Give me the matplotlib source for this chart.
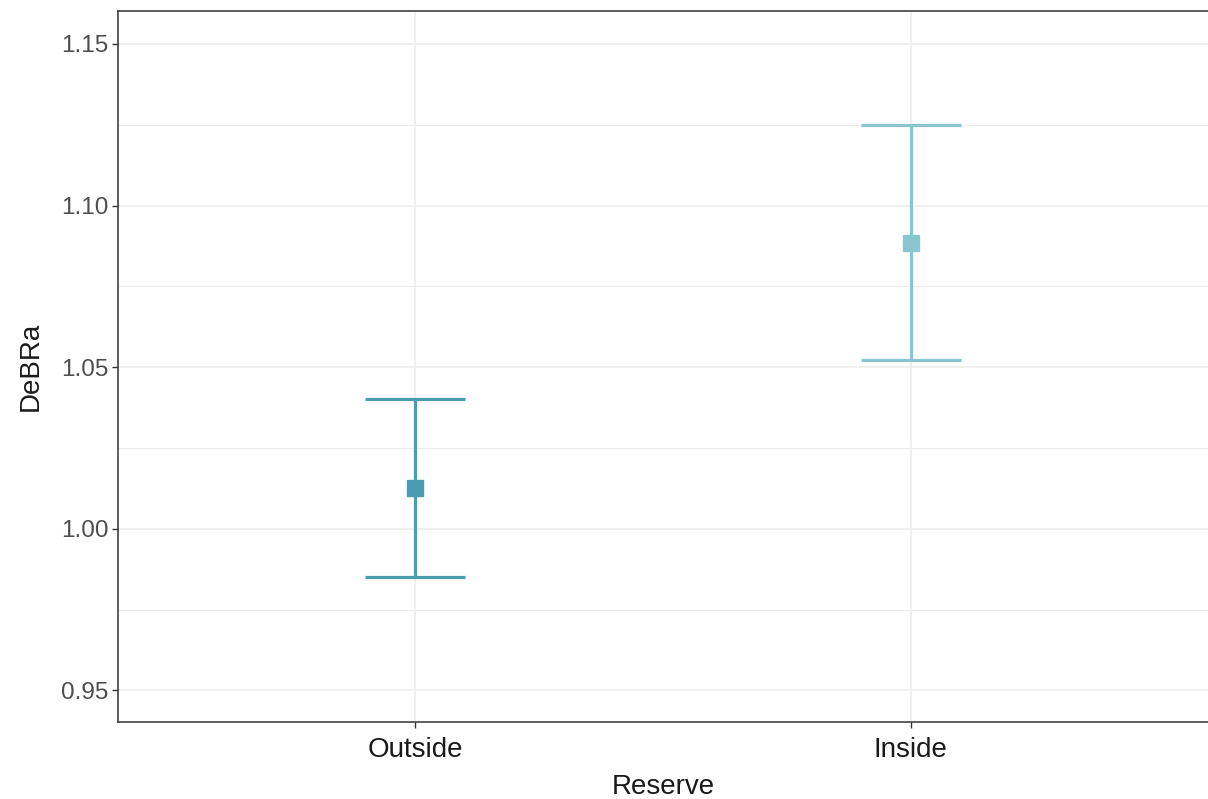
import matplotlib
matplotlib.use("Agg")
import matplotlib.pyplot as plt

categories = ["Outside", "Inside"]
means = [1.0125, 1.0885]
lower = [0.9850, 1.0522]
upper = [1.0400, 1.1248]
colors = ["#4b9cb0", "#8ac4cf"]
yticks = [0.95, 1.00, 1.05, 1.10, 1.15]
yminor = [0.975, 1.025, 1.075, 1.125]

plt.rcParams['font.family'] = ['Liberation Sans', 'DejaVu Sans']
fig = plt.figure(figsize=(12.08, 7.99), dpi=100)
ax = fig.add_axes([118/1208, 77/799, 1 - 118/1208, (722-11)/799])

xs = [1, 2]
for x, m, lo, hi, c in zip(xs, means, lower, upper, colors):
    ax.errorbar([x], [m], yerr=[[m - lo], [hi - m]], fmt='s', color=c,
                ecolor=c, elinewidth=2.3, capsize=36, capthick=2.3,
                markersize=11, zorder=3)

ax.set_xlim(0.4, 2.6)
ax.set_ylim(0.9402, 1.1602)
ax.set_xticks(xs)
ax.set_xticklabels(categories)
ax.set_yticks(yticks)
ax.set_yticklabels([f"{v:.2f}" for v in yticks])
ax.set_yticks(yminor, minor=True)
ax.tick_params(axis='y', which='minor', length=0)
ax.grid(True, which='major', color='#efebeb', linewidth=1.1, zorder=0)
ax.grid(True, which='minor', axis='y', color='#efebeb', linewidth=0.8, zorder=0)
ax.set_axisbelow(True)

ax.tick_params(axis='y', which='major', labelsize=17.5, length=4, width=1, color='#333333', labelcolor='#4d4d4d', pad=3)
ax.tick_params(axis='x', which='major', labelsize=20, length=4, width=1, color='#333333', labelcolor='#1a1a1a', pad=7)
for s in ['left', 'bottom', 'top']:
    ax.spines[s].set_color('#333333')
    ax.spines[s].set_linewidth(1.1)
ax.spines['right'].set_visible(False)

ax.set_xlabel("Reserve", fontsize=20, color='#1a1a1a', labelpad=8)
ax.set_ylabel("DeBRa", fontsize=20, color='#1a1a1a', labelpad=12)

fig.savefig("out.png", dpi=100)
